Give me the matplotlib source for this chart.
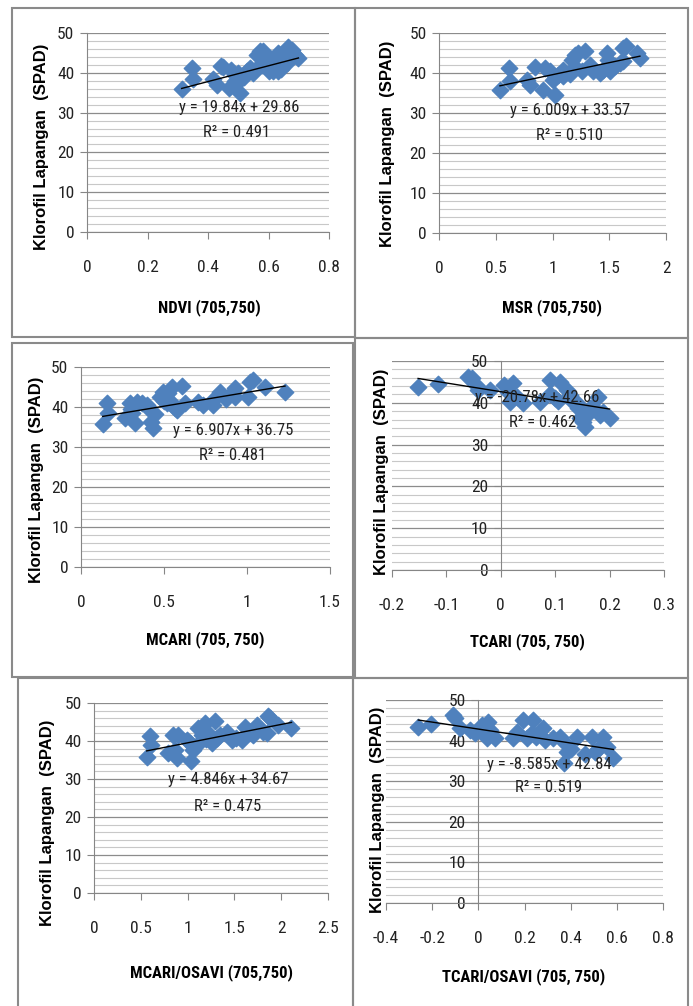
import matplotlib
matplotlib.use("Agg")
import matplotlib.pyplot as plt
from matplotlib import font_manager
from matplotlib.patches import Rectangle
from matplotlib.ticker import MultipleLocator, FuncFormatter

plt.rcParams['axes.unicode_minus'] = False

ylab = "Klorofil Lapangan  (SPAD)"

ndvi_x = [0.313, 0.348, 0.351, 0.418, 0.429, 0.443, 0.45, 0.47, 0.475, 0.489, 0.506, 0.511, 0.528, 0.539, 0.55,
          0.561, 0.572, 0.583, 0.577, 0.594, 0.605, 0.616, 0.632, 0.63, 0.638, 0.655, 0.665, 0.677, 0.688, 0.699,
          0.52, 0.545, 0.56, 0.60, 0.62, 0.64, 0.66, 0.67, 0.50, 0.49, 0.63, 0.645]
ndvi_y = [35.9, 41.2, 38.5, 38.4, 37.0, 41.6, 41.5, 36.2, 40.8, 39.5, 34.9, 38.7, 40.4, 41.2, 40.0,
          44.5, 45.4, 45.4, 42.0, 41.2, 42.9, 40.4, 45.0, 40.4, 42.0, 42.9, 46.6, 45.8, 44.5, 43.7,
          39.0, 40.5, 41.0, 40.5, 41.5, 41.0, 42.5, 44.5, 40.0, 38.0, 44.5, 43.5]

msr_x = [0.537, 0.617, 0.626, 0.773, 0.80, 0.846, 0.919, 0.934, 0.978, 1.022, 1.007, 1.095, 1.095, 1.169, 1.198,
         1.227, 1.286, 1.256, 1.33, 1.36, 1.448, 1.477, 1.49, 1.507, 1.55, 1.595, 1.624, 1.65, 1.624, 1.742, 1.77,
         1.05, 1.15, 1.2, 1.42, 1.52]
msr_y = [35.7, 41.25, 37.9, 38.3, 37.1, 41.4, 35.8, 41.25, 40.4, 34.6, 38.3, 40.8, 39.2, 43.3, 44.6,
         45.0, 45.4, 40.4, 42.1, 40.4, 40.8, 45.0, 43.3, 40.4, 41.7, 42.5, 46.25, 46.7, 42.9, 45.0, 43.75,
         39.5, 39.8, 41.5, 40.0, 42.0]

mcari_x = [0.131, 0.159, 0.165, 0.265, 0.295, 0.305, 0.325, 0.335, 0.365, 0.396, 0.405, 0.42, 0.432, 0.446, 0.476,
           0.496, 0.526, 0.546, 0.516, 0.566, 0.576, 0.606, 0.627, 0.707, 0.737, 0.797, 0.837, 0.876, 0.916, 0.926,
           1.006, 1.016, 1.036, 1.107, 1.229, 0.50, 0.55, 0.30, 0.93, 0.80]
mcari_y = [35.7, 41.1, 38.4, 37.2, 41.1, 38.4, 35.9, 41.3, 40.9, 40.5, 39.7, 36.3, 34.7, 38.3, 42.6,
           43.8, 43.4, 45.1, 40.9, 39.7, 39.3, 45.3, 40.9, 41.3, 40.5, 40.5, 43.8, 42.1, 43.8, 44.7,
           42.6, 46.3, 46.75, 45.1, 43.7, 41.5, 41.0, 39.5, 42.5, 42.0]

tcari_x = [-0.152, -0.115, -0.06, -0.053, -0.044, -0.041, -0.019, 0.005, 0.014, 0.017, 0.023, 0.041, 0.072, 0.091,
           0.1, 0.109, 0.121, 0.127, 0.133, 0.142, 0.146, 0.152, 0.155, 0.164, 0.179, 0.182, 0.188, 0.2, 0.158,
           0.03, 0.09, 0.14, 0.17, 0.105]
tcari_y = [43.7, 44.5, 46.2, 46.0, 43.9, 43.1, 43.1, 44.3, 42.7, 40.3, 44.7, 39.9, 40.3, 45.5,
           41.1, 45.0, 43.1, 41.9, 40.3, 38.7, 36.3, 35.5, 34.3, 38.7, 41.5, 37.1, 37.9, 36.3, 37.0,
           41.5, 42.0, 40.0, 39.0, 40.5]

mo_x = [0.563, 0.598, 0.605, 0.794, 0.847, 0.865, 0.89, 0.9, 0.99, 1.026, 1.04, 1.06, 1.11, 1.15, 1.186, 1.22,
        1.257, 1.29, 1.31, 1.42, 1.47, 1.52, 1.58, 1.61, 1.667, 1.74, 1.81, 1.86, 1.88, 1.97, 2.11,
        1.1, 1.2, 1.35, 1.7, 1.85]
mo_y = [35.8, 41.2, 39.0, 36.8, 41.7, 37.7, 35.5, 41.7, 40.3, 39.5, 34.7, 37.7, 43.4, 41.7, 44.7, 42.1,
        39.5, 45.2, 40.8, 42.5, 40.3, 40.8, 40.3, 43.8, 42.5, 44.3, 42.5, 46.5, 46.0, 44.3, 43.4,
        39.0, 40.5, 41.5, 41.5, 42.0]

to_x = [-0.26, -0.205, -0.109, -0.102, -0.08, -0.036, -0.014, 0.015, 0.044, 0.037, 0.073, 0.152, 0.166, 0.195,
        0.21, 0.231, 0.238, 0.281, 0.288, 0.324, 0.354, 0.375, 0.382, 0.426, 0.462, 0.491, 0.506, 0.542, 0.556,
        0.585, 0.37, 0.05, 0.25, 0.40, 0.52]
to_y = [43.3, 44.2, 46.3, 45.5, 43.0, 42.6, 41.8, 43.8, 44.6, 40.6, 40.6, 40.6, 42.2, 45.1,
        40.6, 41.8, 45.1, 43.0, 40.1, 40.6, 40.9, 39.3, 37.3, 40.9, 36.8, 40.9, 37.3, 40.9, 38.5,
        35.6, 34.6, 42.5, 41.0, 38.0, 38.0]

# slope, intercept, r2 as printed on the chart
fits = {
    'ndvi': (19.84, 29.86, "0.491"),
    'msr': (6.009, 33.57, "0.510"),
    'mcari': (6.907, 36.75, "0.481"),
    'tcari': (-20.78, 42.66, "0.462"),
    'mo': (4.846, 34.67, "0.475"),
    'to': (-8.585, 42.84, "0.519"),
}

W, H = 693, 1006
blue = '#4F81BD'
axcol = '#868686'

# pick a narrow face if one is installed (chart uses a condensed font)
installed = {f.name: f for f in font_manager.fontManager.ttflist}
cond_faces = [f for f in font_manager.fontManager.ttflist if f.stretch in ('condensed', 'semi-condensed', 'extra-condensed', 400, 300)]
narrow_name = None
for c in ['Liberation Sans Narrow', 'DejaVu Sans Condensed', 'Noto Sans Condensed', 'Roboto Condensed',
          'Open Sans Condensed', 'Noto Sans Display Condensed']:
    if c in installed:
        narrow_name = c
        break
stretch = 'normal'
if narrow_name is None:
    for f in cond_faces:
        if f.name in ('DejaVu Sans', 'Noto Sans', 'Open Sans', 'Roboto', 'Liberation Sans'):
            narrow_name = f.name
            stretch = 'condensed'
            break
if narrow_name is None:
    narrow_name = 'Liberation Sans'
narrow = [narrow_name, 'DejaVu Sans']
tsize = 12.5
esize = 12

fig = plt.figure(figsize=(W / 100, H / 100), dpi=100)


def box(x0, y0, x1, y1):
    fig.patches.append(Rectangle((x0 / W, 1 - y1 / H), (x1 - x0) / W, (y1 - y0) / H,
                                 transform=fig.transFigure, fill=False, edgecolor='#8a8a8a', lw=1.5))


def fmt(v, pos):
    return f"{round(v, 3):g}"


def panel(px, x, y, key, xlim, step, xlabel, eqpos, r2pos, ylpos, xlpos, zero_axis=False):
    x0, y0, x1, y1 = px
    ax = fig.add_axes([x0 / W, 1 - y1 / H, (x1 - x0) / W, (y1 - y0) / H])
    ax.set_xlim(*xlim)
    ax.set_ylim(0, 50)
    ax.yaxis.set_major_locator(MultipleLocator(10))
    ax.yaxis.set_minor_locator(MultipleLocator(2))
    ax.xaxis.set_major_locator(MultipleLocator(step))
    ax.xaxis.set_major_formatter(FuncFormatter(fmt))
    ax.yaxis.set_major_formatter(FuncFormatter(fmt))
    ax.grid(axis='y', which='minor', color='#c8c8c8', lw=0.8)
    ax.grid(axis='y', which='major', color='#8c8c8c', lw=0.9)
    ax.set_axisbelow(True)
    for s in ['top', 'right']:
        ax.spines[s].set_visible(False)
    ax.spines['left'].set_color(axcol)
    ax.spines['bottom'].set_color(axcol)
    if zero_axis:
        ax.spines['left'].set_position(('data', 0))
    ax.tick_params(axis='both', which='major', direction='out', length=5, color=axcol,
                   labelsize=tsize, labelcolor='#222222')
    ax.tick_params(axis='x', pad=15)
    ax.tick_params(axis='y', pad=4)
    ax.tick_params(axis='y', which='minor', length=0)
    for t in ax.get_xticklabels() + ax.get_yticklabels():
        t.set_family(narrow)
        t.set_stretch(stretch)

    ax.scatter(x, y, marker='D', s=70, color=blue, edgecolors=blue, zorder=3)
    m, b, r2 = fits[key]
    xs = [min(x), max(x)]
    ax.plot(xs, [m * v + b for v in xs], color='black', lw=1, zorder=4)

    sign = '+' if b >= 0 else '-'
    eq = f"y = {m:g}x {sign} {abs(b):g}"
    ax.text(eqpos[0], eqpos[1], eq, transform=ax.transAxes, ha='center', va='center',
            fontsize=esize, family=narrow, stretch=stretch, color='#222222', zorder=5)
    ax.text(r2pos[0], r2pos[1], f"R\u00b2 = {r2}", transform=ax.transAxes, ha='center', va='center',
            fontsize=esize, family=narrow, stretch=stretch, color='#222222', zorder=5)

    ax.set_ylabel(ylab, fontsize=12, fontweight='bold', family='Liberation Sans', va='center')
    ax.yaxis.set_label_coords(*ylpos)
    ax.set_xlabel(xlabel, fontsize=12, fontweight='bold', family=narrow, stretch=stretch, va='center')
    ax.xaxis.set_label_coords(*xlpos)
    return ax


box(12, 8, 355, 337)
box(355, 8, 688, 338)
box(12, 343, 353, 677)
box(355, 338, 688, 678)
box(18, 678, 353, 1010)
box(353, 678, 688, 1010)

panel((87, 33, 329, 232), ndvi_x, ndvi_y, 'ndvi', (0, 0.8), 0.2, "NDVI (705,750)",
      (0.628, 0.628), (0.62, 0.50), (-0.186, 0.427), (0.504, -0.38))
panel((439, 33, 666, 233), msr_x, msr_y, 'msr', (0, 2), 0.5, "MSR (705,750)",
      (0.577, 0.615), (0.577, 0.49), (-0.229, 0.445), (0.498, -0.375))
panel((81, 367, 330, 567), mcari_x, mcari_y, 'mcari', (0, 1.5), 0.5, "MCARI (705, 750)",
      (0.61, 0.685), (0.61, 0.56), (-0.177, 0.435), (0.498, -0.365))
panel((392, 361, 664, 570), tcari_x, tcari_y, 'tcari', (-0.2, 0.3), 0.1, "TCARI (705, 750)",
      (0.533, 0.823), (0.555, 0.708), (-0.037, 0.469), (0.498, -0.344), zero_axis=True)
panel((94, 703, 328, 893), mo_x, mo_y, 'mo', (0, 2.5), 0.5, "MCARI/OSAVI (705,750)",
      (0.573, 0.595), (0.573, 0.453), (-0.2, 0.368), (0.5, -0.42))
panel((386, 700, 663, 903), to_x, to_y, 'to', (-0.4, 0.8), 0.2, "TCARI/OSAVI (705, 750)",
      (0.588, 0.68), (0.588, 0.567), (-0.032, 0.458), (0.498, -0.36), zero_axis=True)

fig.savefig("out.png", dpi=100)
